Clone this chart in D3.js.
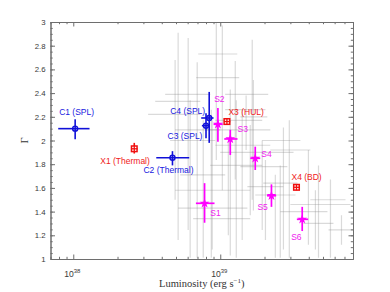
<!DOCTYPE html>
<html><head><meta charset="utf-8">
<script src="https://cdn.jsdelivr.net/npm/d3@7"></script>
<style>
html,body{margin:0;padding:0;background:#fff;}
svg{display:block;}
</style></head>
<body>
<svg id="chart" width="390" height="292"></svg>
<script>
// ---------- data ----------
const xTickValues = [1e38, 1e39];
const xTickLabels = [["10", "38"], ["10", "39"]];
const yTickValues = [1, 1.2, 1.4, 1.6, 1.8, 2, 2.2, 2.4, 2.6, 2.8, 3];
const yTickLabels = ["1", "1.2", "1.4", "1.6", "1.8", "2", "2.2", "2.4", "2.6", "2.8", "3"];

const blueNames = ["C1 (SPL)", "C2 (Thermal)", "C3 (SPL)", "C4 (SPL)"];
const blueLum   = [1.03e38, 4.73e38, 8.00e38, 8.41e38];
const blueLumLo = [0.79e38, 3.67e38, 7.50e38, 7.42e38];
const blueLumHi = [1.29e38, 6.15e38, 8.45e38, 9.00e38];
const blueGam   = [2.10, 1.855, 2.125, 2.19];
const blueGamLo = [2.01, 1.79, 2.02, 1.98];
const blueGamHi = [2.18, 1.91, 2.23, 2.41];

const redNames = ["X1 (Thermal)", "X3 (HUL)", "X4 (BD)"];
const redLum   = [2.60e38, 11.1e38, 33.0e38];
const redLumLo = [2.48e38, 10.7e38, 33.0e38];
const redLumHi = [2.73e38, 11.7e38, 33.0e38];
const redGam   = [1.93, 2.16, 1.605];
const redGamLo = [1.89, 2.15, 1.605];
const redGamHi = [1.98, 2.17, 1.605];

const magNames = ["S1", "S2", "S3", "S4", "S5", "S6"];
const magLum   = [7.82e38, 9.64e38, 11.7e38, 17.3e38, 22.3e38, 36.1e38];
const magLumLo = [6.83e38, 9.00e38, 10.65e38, 16.0e38, 20.8e38, 33.2e38];
const magLumHi = [9.14e38, 10.4e38, 13.1e38, 18.7e38, 24.0e38, 39.6e38];
const magGam   = [1.47, 2.137, 2.013, 1.85, 1.534, 1.335];
const magGamLo = [1.306, 1.99, 1.878, 1.751, 1.44, 1.236];
const magGamHi = [1.64, 2.274, 2.09, 1.948, 1.63, 1.44];

// background sample (grey), luminosity in units of 1e38 erg/s
const grayLum   = [9.4, 10.33, 5.17, 6.05, 16.5, 16.8, 6.97, 11.7, 26.9, 29.5, 16.0, 19.3, 25.6, 20.3, 44.4, 39.8, 46.6, 66.8, 8.69, 8.82, 11.35, 7.66, 12.85, 14.1, 6.24, 23.7, 56.2, 15.0, 12.65, 4.93];
const grayLumLo = [7.08, 6.86, 3.61, 4.22, 10.8, 13.7, 4.93, 7.91, 19.3, 21.9, 10.0, 13.7, 19.6, 15.3, 30.0, 25.6, 36.8, 54.5, 4.93, 5.17, 6.54, 5.34, 8.55, 9.25, 4.56, 17.3, 41.0, 10.8, 9.25, 3.23];
const grayLumHi = [13.05, 13.46, 7.31, 8.55, 21.2, 20.9, 10.0, 21.9, 35.1, 41.0, 31.5, 28.6, 33.5, 26.9, 76.9, 53.6, 58.9, 80.0, 16.0, 15.3, 16.0, 10.8, 19.3, 21.9, 9.25, 32.5, 71.1, 20.3, 19.3, 7.31];
const grayGam   = [2.73, 2.53, 2.33, 2.39, 2.39, 2.20, 2.09, 2.09, 2.00, 1.92, 1.90, 1.78, 1.64, 1.61, 1.46, 1.40, 1.30, 1.245, 1.58, 1.43, 1.34, 1.71, 1.79, 1.96, 2.00, 1.54, 1.50, 2.26, 2.17, 2.22];
const grayGamLo = [1.835, 1.58, 1.16, 1.245, 1.50, 1.41, 1.01, 1.03, 1.08, 1.01, 1.37, 1.245, 1.01, 1.16, 1.08, 1.12, 1.01, 1.12, 1.01, 1.08, 1.20, 1.01, 1.01, 1.16, 1.01, 1.01, 1.01, 1.92, 1.67, 1.50];
const grayGamHi = [3.0, 2.97, 2.91, 2.865, 2.85, 2.51, 2.66, 2.43, 2.11, 2.17, 2.13, 2.00, 1.79, 1.835, 1.58, 1.92, 1.79, 1.37, 2.26, 2.17, 2.00, 2.17, 2.34, 2.26, 2.34, 1.71, 1.67, 2.38, 2.67, 2.68];

// ---------- layout ----------
const svg = d3.select("#chart");
const L = 50.5, R = 353, T = 22, B = 259;
const x = d3.scaleLog().domain([7e37, 8e39]).range([L, R]);
const y = d3.scaleLinear().domain([1, 3]).range([B, T]);
const axisColor = "#6e6e6e";
const tickFont = "Liberation Sans, Arial, sans-serif";

svg.append("defs").append("clipPath").attr("id", "clip")
  .append("rect").attr("x", L).attr("y", T).attr("width", R - L).attr("height", B - T);

const plot = svg.append("g").attr("clip-path", "url(#clip)");

// grey background crosses
const gray = grayLum.map((v, i) => ({lx: v * 1e38, lo: grayLumLo[i] * 1e38, hi: grayLumHi[i] * 1e38, g: grayGam[i], glo: grayGamLo[i], ghi: grayGamHi[i]}));
const gg = plot.append("g").attr("stroke", "#8c8c8c").attr("stroke-opacity", 0.32).attr("stroke-width", 1.2);
gray.forEach(d => {
  gg.append("line").attr("x1", x(d.lo)).attr("x2", x(d.hi)).attr("y1", y(d.g)).attr("y2", y(d.g));
  gg.append("line").attr("x1", x(d.lx)).attr("x2", x(d.lx)).attr("y1", y(d.glo)).attr("y2", y(d.ghi));
});

function errBars(g, lum, lo, hi, gam, glo, ghi, color, w) {
  lum.forEach((v, i) => {
    g.append("line").attr("x1", x(lo[i])).attr("x2", x(hi[i])).attr("y1", y(gam[i])).attr("y2", y(gam[i]))
      .attr("stroke", color).attr("stroke-width", w);
    g.append("line").attr("x1", x(v)).attr("x2", x(v)).attr("y1", y(glo[i])).attr("y2", y(ghi[i]))
      .attr("stroke", color).attr("stroke-width", w);
  });
}

const blue = "#1010d8", red = "#f01010", mag = "#ff00ff";
const pts = svg.append("g");

// magenta
errBars(pts, magLum, magLumLo, magLumHi, magGam, magGamLo, magGamHi, mag, 1.7);
magLum.forEach((v, i) => {
  pts.append("path").attr("d", d3.symbol(d3.symbolStar, 30)())
    .attr("transform", `translate(${x(v)},${y(magGam[i])})`).attr("fill", mag);
});
// blue
errBars(pts, blueLum, blueLumLo, blueLumHi, blueGam, blueGamLo, blueGamHi, blue, 1.6);
blueLum.forEach((v, i) => {
  pts.append("circle").attr("cx", x(v)).attr("cy", y(blueGam[i])).attr("r", 2.5)
    .attr("fill", "none").attr("stroke", blue).attr("stroke-width", 1.4);
});
// red
errBars(pts, redLum, redLumLo, redLumHi, redGam, redGamLo, redGamHi, red, 1.6);
redLum.forEach((v, i) => {
  const cx = x(v), cy = y(redGam[i]);
  pts.append("rect").attr("x", cx - 2.8).attr("y", cy - 2.8).attr("width", 5.6).attr("height", 5.6)
    .attr("fill", "#fff").attr("stroke", red).attr("stroke-width", 1.5);
  pts.append("line").attr("x1", cx - 3).attr("x2", cx + 3).attr("y1", cy).attr("y2", cy).attr("stroke", red).attr("stroke-width", 1.3);
  pts.append("line").attr("x1", cx).attr("x2", cx).attr("y1", cy - 3).attr("y2", cy + 3).attr("stroke", red).attr("stroke-width", 1.3);
});

// labels (offsets in px relative to the point)
const labelFont = "Liberation Sans, Arial, sans-serif";
const blueOff = [[-16, -14], [-29, 15.5], [-38.5, 13.5], [-39, -4]];
const redOff = [[-34, 15.5], [1.5, -6.5], [-5, -7]];
const magOff = [[5.7, 12.7], [-3.7, -22.3], [7.3, -7], [6, -1.3], [-14, 14.3], [-11, 21]];
function labels(names, lum, gam, off, color) {
  names.forEach((n, i) => {
    svg.append("text").attr("x", x(lum[i]) + off[i][0]).attr("y", y(gam[i]) + off[i][1])
      .attr("font-family", labelFont).attr("font-size", 8.5).attr("fill", color).text(n);
  });
}
labels(blueNames, blueLum, blueGam, blueOff, "#2020e0");
labels(redNames, redLum, redGam, redOff, "#f02020");
labels(magNames, magLum, magGam, magOff, "#f020f0");

// ---------- axes ----------
const xMinor = [];
[1e37, 1e38, 1e39].forEach(d => { for (let k = 2; k <= 9; k++) { const v = k * d; if (v >= 7e37 && v <= 8e39) xMinor.push(v); } });
const yMinor = d3.range(0, 41).map(i => 1 + i * 0.05);

function styleAxis(g) {
  g.select(".domain").attr("stroke", axisColor);
  g.selectAll(".tick line").attr("stroke", axisColor);
  g.selectAll(".tick text").attr("fill", "#3a3a3a").attr("font-family", tickFont).attr("font-size", 7.8);
}
// bottom
svg.append("g").attr("transform", `translate(0,${B})`)
  .call(d3.axisBottom(x).tickValues(xMinor).tickSize(-2.2).tickFormat("").tickSizeOuter(0)).call(styleAxis);
svg.append("g").attr("transform", `translate(0,${B})`)
  .call(d3.axisBottom(x).tickValues(xTickValues).tickSize(-4.5).tickFormat("").tickSizeOuter(0)).call(styleAxis);
// top
svg.append("g").attr("transform", `translate(0,${T})`)
  .call(d3.axisTop(x).tickValues(xMinor).tickSize(-2.2).tickFormat("").tickSizeOuter(0)).call(styleAxis);
svg.append("g").attr("transform", `translate(0,${T})`)
  .call(d3.axisTop(x).tickValues(xTickValues).tickSize(-4.5).tickFormat("").tickSizeOuter(0)).call(styleAxis);
// left
svg.append("g").attr("transform", `translate(${L},0)`)
  .call(d3.axisLeft(y).tickValues(yMinor).tickSize(-2.2).tickFormat("").tickSizeOuter(0)).call(styleAxis);
svg.append("g").attr("transform", `translate(${L},0)`)
  .call(d3.axisLeft(y).tickValues(yTickValues).tickSize(-4.5).tickPadding(5)
    .tickFormat((d, i) => yTickLabels[i]).tickSizeOuter(0)).call(styleAxis);
// right
svg.append("g").attr("transform", `translate(${R},0)`)
  .call(d3.axisRight(y).tickValues(yMinor).tickSize(-2.2).tickFormat("").tickSizeOuter(0)).call(styleAxis);
svg.append("g").attr("transform", `translate(${R},0)`)
  .call(d3.axisRight(y).tickValues(yTickValues).tickSize(-4.5).tickFormat("").tickSizeOuter(0)).call(styleAxis);

// x tick labels with superscripts
xTickValues.forEach((v, i) => {
  const t = svg.append("text").attr("x", x(v) - 1).attr("y", B + 17.5)
    .attr("text-anchor", "middle").attr("font-family", tickFont).attr("font-size", 8.6).attr("fill", "#3a3a3a");
  t.append("tspan").text(xTickLabels[i][0]);
  t.append("tspan").attr("dy", -4).attr("font-size", 6).text(xTickLabels[i][1]);
});

// axis titles
const xt = svg.append("text").attr("x", (L + R) / 2).attr("y", B + 27.5).attr("text-anchor", "middle")
  .attr("font-family", "Liberation Serif, Times New Roman, serif").attr("font-size", 10.5).attr("fill", "#333");
xt.append("tspan").text("Luminosity (erg s");
xt.append("tspan").attr("dy", -4).attr("font-size", 7).text("\u22121");
xt.append("tspan").attr("dy", 4).text(")");

svg.append("text").attr("transform", `translate(28,${(T + B) / 2}) rotate(-90)`).attr("text-anchor", "middle")
  .attr("font-family", "Liberation Serif, Times New Roman, serif").attr("font-size", 10.5).attr("fill", "#333").text("\u0393");
</script>
</body></html>
